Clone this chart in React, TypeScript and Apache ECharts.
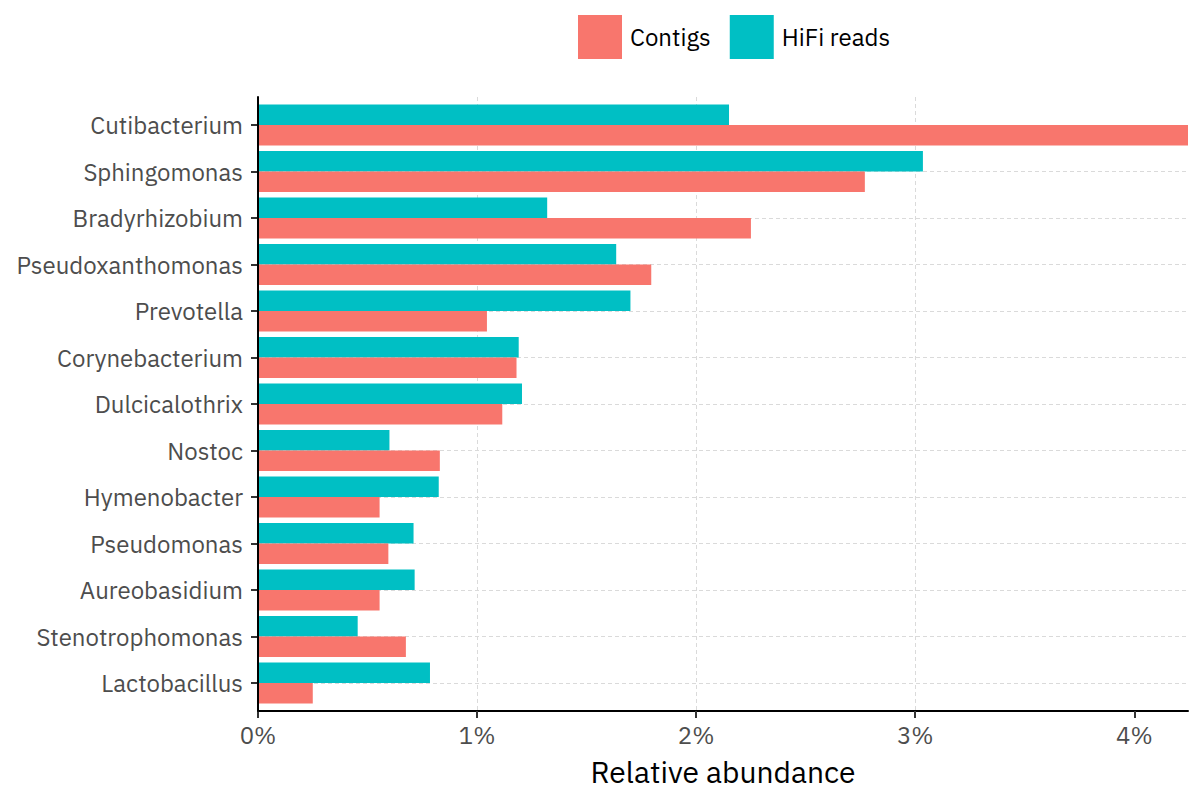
import React, { useEffect, useRef } from "react";
import * as echarts from "echarts";

const categories = [
  "Cutibacterium",
  "Sphingomonas",
  "Bradyrhizobium",
  "Pseudoxanthomonas",
  "Prevotella",
  "Corynebacterium",
  "Dulcicalothrix",
  "Nostoc",
  "Hymenobacter",
  "Pseudomonas",
  "Aureobasidium",
  "Stenotrophomonas",
  "Lactobacillus",
];
const contigs = [4.25, 2.77, 2.25, 1.795, 1.045, 1.18, 1.115, 0.83, 0.555, 0.595, 0.555, 0.675, 0.25];
const hifiReads = [2.15, 3.035, 1.32, 1.635, 1.7, 1.19, 1.205, 0.6, 0.825, 0.71, 0.715, 0.455, 0.785];
const xTicks = [0, 1, 2, 3, 4];
const xMax = 4.245;

const FONT = "'IBM Plex Sans', 'Noto Sans', sans-serif";
const GRID_COLOR = "#dadada";

export default function App() {
  const ref = useRef<HTMLDivElement>(null);
  useEffect(() => {
    if (!ref.current) return;
    const chart = echarts.init(ref.current, undefined, { renderer: "svg" });
    chart.setOption({
      animation: false,
      backgroundColor: "#ffffff",
      textStyle: { fontFamily: FONT },
      legend: {
        data: ["Contigs", "HiFi reads"],
        left: 573,
        top: 10,
        itemWidth: 44,
        itemHeight: 44,
        itemGap: 19,
        icon: "rect",
        textStyle: { fontSize: 24, color: "#000", fontFamily: FONT, padding: [0, 0, 6, 3] },
      },
      grid: [
        { left: 258, right: 12, top: 101.75, bottom: 93.75, outerBoundsMode: "none" },
        { left: 258, right: 12, top: 97, bottom: 89, outerBoundsMode: "none" },
      ],
      xAxis: [
        {
          type: "value",
          gridIndex: 0,
          min: 0,
          max: xMax,
          show: false,
        },
        {
          type: "value",
          gridIndex: 1,
          min: 0,
          max: xMax,
          interval: 1,
          axisLine: { show: true, lineStyle: { color: "#000", width: 2 } },
          axisTick: {
            show: true,
            length: 7,
            lineStyle: { color: "#333", width: 2 },
            customValues: xTicks,
          },
          axisLabel: {
            show: true,
            margin: 12,
            fontSize: 24,
            color: "#4d4d4d",
            fontFamily: FONT,
            formatter: (v: number) => `${v}%`,
            customValues: xTicks,
          },
          splitLine: {
            show: true,
            showMinLine: false,
            showMaxLine: false,
            lineStyle: { color: GRID_COLOR, type: [4, 3], width: 1 },
          },
          name: "Relative abundance",
          nameLocation: "middle",
          nameGap: 45,
          nameTextStyle: { fontSize: 30, color: "#000", fontFamily: FONT },
        },
      ],
      yAxis: [
        {
          type: "category",
          gridIndex: 0,
          data: categories,
          inverse: true,
          axisLine: { show: false },
          axisTick: { show: true, alignWithLabel: true, length: 7, lineStyle: { color: "#333", width: 2 } },
          axisLabel: { fontSize: 24, color: "#4d4d4d", margin: 15, fontFamily: FONT },
          splitLine: { show: false },
        },
        {
          type: "value",
          gridIndex: 1,
          min: 0,
          max: 1,
          z: 5,
          axisLine: { show: true, lineStyle: { color: "#000", width: 2 } },
          axisTick: { show: false },
          axisLabel: { show: false },
          splitLine: { show: false },
        },
      ],
      series: [
        {
          name: "gridlines",
          type: "line",
          xAxisIndex: 0,
          yAxisIndex: 0,
          data: [],
          z: 1,
          silent: true,
          markLine: {
            silent: true,
            z: 1,
            symbol: ["none", "none"],
            label: { show: false },
            lineStyle: { color: GRID_COLOR, type: [4, 3], width: 1 },
            data: categories.map((c) => ({ yAxis: c })),
          },
        },
        {
          name: "HiFi reads",
          type: "bar",
          xAxisIndex: 0,
          yAxisIndex: 0,
          data: hifiReads,
          barWidth: 20.5,
          barGap: "0%",
          itemStyle: { color: "#00BFC4" },
          z: 2,
        },
        {
          name: "Contigs",
          type: "bar",
          xAxisIndex: 0,
          yAxisIndex: 0,
          data: contigs,
          barWidth: 20.5,
          barGap: "0%",
          itemStyle: { color: "#F8766D" },
          z: 2,
        },
      ],
    });
    return () => chart.dispose();
  }, []);
  return (
    <div
      ref={ref}
      style={{ position: "absolute", left: 0, top: 0, width: 1200, height: 800 }}
    />
  );
}
